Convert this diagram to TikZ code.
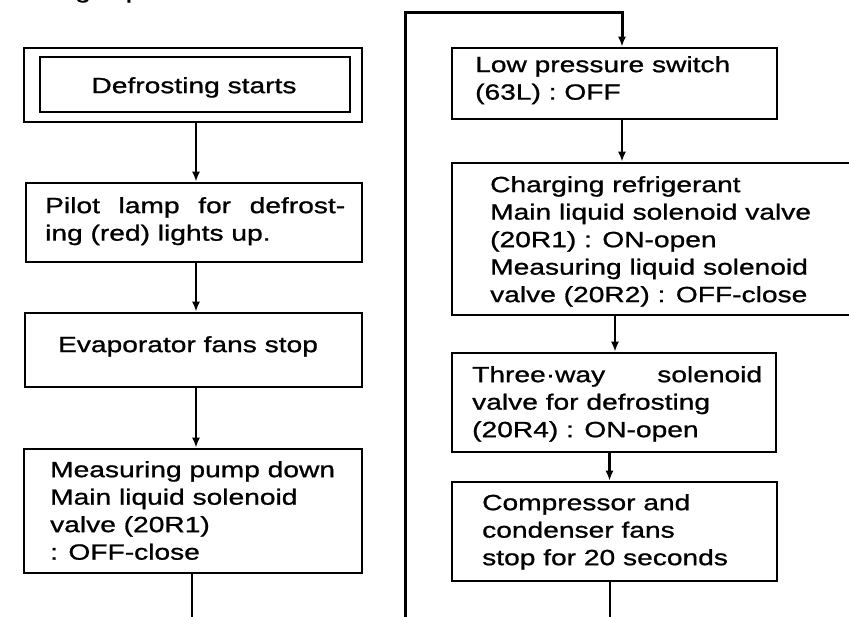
\documentclass[tikz,border=0pt]{standalone}
\usepackage{fontspec}
\setmainfont[FakeStretch=1.28,FakeBold=1]{Liberation Sans}
\usetikzlibrary{arrows.meta}
\begin{document}
\begin{tikzpicture}[x=1pt,y=-1pt,
  box/.style={draw,line width=2.6pt,rectangle,inner sep=0pt},
  txt/.style={inner sep=0pt,align=left,font=\fontsize{22}{27.5}\selectfont},
  arr/.style={line width=2.2pt,-{Latex[length=10pt,width=8pt]}},
  ln/.style={line width=2.2pt}]
\clip (0,0) rectangle (849,617);
\fill[white] (0,0) rectangle (849,617);
% cut-off heading fragment
\node[txt,anchor=base west] (head) at (75,-2) {g\hspace{35pt}p};
% left column
\node[box,minimum width=338pt,minimum height=74pt] (b1) at (193,85) {};
\node[box,minimum width=310pt,minimum height=55pt] (b1i) at (195,84.5) {};
\node[txt,anchor=north] (t1) at (194,77) {Defrosting starts};
\node[box,minimum width=336pt,minimum height=79pt] (b2) at (194,222.5) {};
\node[txt,anchor=north west] (t2) at (45,197) {\makebox[300pt][s]{Pilot lamp for defrost-}\\ing (red) lights up.};
\node[box,minimum width=337pt,minimum height=74pt] (b3) at (193.5,350) {};
\node[txt,anchor=north] (t3) at (188,336) {Evaporator fans stop};
\node[box,minimum width=338pt,minimum height=124pt] (b4) at (193,511) {};
\node[txt,anchor=north west] (t4) at (50,461) {Measuring pump down\\Main liquid solenoid\\valve (20R1)\\: OFF-close};
% right column
\node[box,minimum width=325pt,minimum height=71pt] (b5) at (614.5,83.5) {};
\node[txt,anchor=north west] (t5) at (475,56) {Low pressure switch\\(63L) : OFF};
\node[box,minimum width=418pt,minimum height=152pt] (b6) at (661,239) {};
\node[txt,anchor=north west] (t6) at (490,176) {Charging refrigerant\\Main liquid solenoid valve\\(20R1) : ON-open\\Measuring liquid solenoid\\valve (20R2) : OFF-close};
\node[box,minimum width=324pt,minimum height=99pt] (b7) at (614,402.5) {};
\node[txt,anchor=north west] (t7) at (472,366) {\makebox[290pt][s]{Three·way solenoid}\\valve for defrosting\\(20R4) : ON-open};
\node[box,minimum width=325pt,minimum height=99pt] (b8) at (614.5,531.5) {};
\node[txt,anchor=north west] (t8) at (482,494) {Compressor and\\condenser fans\\stop for 20 seconds};
% connectors left
\draw[arr] ([xshift=3pt]b1.south) -- ([xshift=3pt]b1.south |- b2.north);
\draw[arr] ([xshift=2pt]b2.south) -- ([xshift=2pt]b2.south |- b3.north);
\draw[arr] ([xshift=2.5pt]b3.south) -- ([xshift=2.5pt]b3.south |- b4.north);
\coordinate (e4) at (192,630);
\draw[ln] ([xshift=-1pt]b4.south) -- (e4);
% connectors right
\coordinate (lb) at (405,630);
\coordinate (tc) at (622,13);
\draw[arr,line width=3pt] (lb) |- (tc) -- (tc |- b5.north);
\draw[arr] ([xshift=7.5pt]b5.south) -- ([xshift=7.5pt]b5.south |- b6.north);
\draw[arr] ([xshift=1pt]b7.north |- b6.south) -- ([xshift=1pt]b7.north);
\draw[arr] ([xshift=-4.5pt]b7.south) -- ([xshift=-4.5pt]b7.south |- b8.north);
\coordinate (e8) at (610,630);
\draw[ln] ([xshift=-4.5pt]b8.south) -- (e8);
\end{tikzpicture}
\end{document}
